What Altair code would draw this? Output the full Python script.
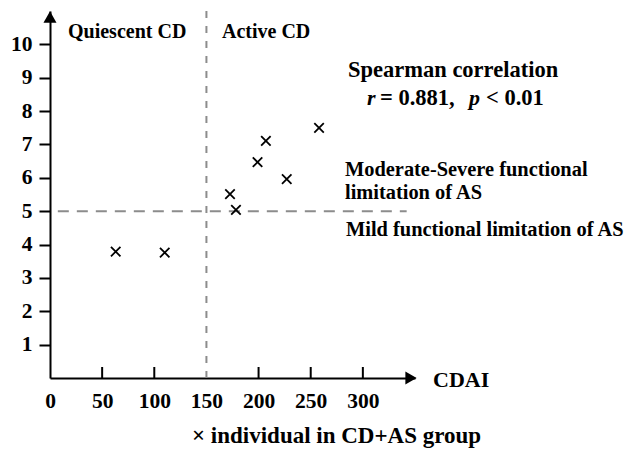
import altair as alt
import pandas as pd

# data
cdai = [63, 110, 172.6, 178.3, 199, 207, 227, 258]
score = [3.79, 3.76, 5.51, 5.04, 6.47, 7.11, 5.96, 7.5]
x_ticks = [0, 50, 100, 150, 200, 250, 300]
y_ticks = [1, 2, 3, 4, 5, 6, 7, 8, 9, 10]
inner_ticks = [50, 100, 200, 250, 300]
cd_cut = 150
as_cut = 5

FONT = "Liberation Serif"
W, H = 365, 367
xs = alt.Scale(domain=[0, 350], nice=False, zero=False)
ys = alt.Scale(domain=[0, 11], nice=False, zero=False)

pts = pd.DataFrame({"x": cdai, "y": score})

points = alt.Chart(pts).mark_point(
    shape="M-1,-1L1,1M1,-1L-1,1", size=90, filled=False,
    stroke="black", strokeWidth=1.8, opacity=1
).encode(
    x=alt.X("x:Q", scale=xs, title=None, axis=alt.Axis(values=x_ticks)),
    y=alt.Y("y:Q", scale=ys, title=None, axis=alt.Axis(values=y_ticks)),
)

vline = alt.Chart(pd.DataFrame({"x": [cd_cut], "y": [0], "y2": [11]})).mark_rule(
    color="#8c8c8c", strokeWidth=2, strokeDash=[7, 8]
).encode(x=alt.X("x:Q", scale=xs, title=None), y=alt.Y("y:Q", scale=ys, title=None), y2="y2:Q")

hline = alt.Chart(pd.DataFrame({"x": [7.5], "x2": [342], "y": [as_cut]})).mark_rule(
    color="#8c8c8c", strokeWidth=2, strokeDash=[11, 8]
).encode(x=alt.X("x:Q", scale=xs, title=None), x2="x2:Q", y=alt.Y("y:Q", scale=ys, title=None))

ticks = alt.Chart(pd.DataFrame({"x": inner_ticks})).mark_rule(
    color="black", strokeWidth=2
).encode(x=alt.X("x:Q", scale=xs, title=None), y=alt.value(H), y2=alt.value(H - 11))

arrow_y = alt.Chart(pd.DataFrame({"a": [0]})).mark_point(
    shape="triangle-up", size=170, filled=True, color="black", opacity=1
).encode(x=alt.value(0), y=alt.value(6))

arrow_x = alt.Chart(pd.DataFrame({"a": [0]})).mark_point(
    shape="triangle-right", size=170, filled=True, color="black", opacity=1
).encode(x=alt.value(W - 4), y=alt.value(H))

labels = pd.DataFrame({
    "text": ["Quiescent CD", "Active CD", "Spearman correlation",
             "Moderate-Severe functional", "limitation of AS",
             "Mild functional limitation of AS", "CDAI", "\u00d7 individual in CD+AS group"],
    "px": [18, 172, 298, 295, 295, 296, 383, 142],
    "py": [21, 21, 59, 159, 182, 219, 369, 425],
    "size": [20, 20, 22.5, 20.4, 20.4, 20.4, 22, 23],
})

def txt(row, italic=False):
    return alt.Chart(pd.DataFrame({"t": [row[0]]})).mark_text(
        font=FONT, fontWeight="bold", fontStyle="italic" if italic else "normal",
        fontSize=row[3], align="left", baseline="middle", color="black"
    ).encode(text="t:N", x=alt.value(row[1]), y=alt.value(row[2]))

text_layers = [txt(r) for r in labels.itertuples(index=False)]
stat_parts = [("r", 317, 87, 22, True), ("= 0.881,", 330, 87, 22.5, False),
              ("p", 419, 87, 22, True), ("< 0.01", 436, 87, 22.5, False)]
stat_layers = [txt(p[:4], p[4]) for p in stat_parts]

chart = alt.layer(
    vline, hline, ticks, points, arrow_y, arrow_x, *text_layers, *stat_layers
).properties(
    width=W, height=H,
    autosize=alt.AutoSizeParams(type="none"),
    padding={"left": 42, "top": 3, "right": 211, "bottom": 70},
).configure_view(
    stroke=None
).configure_axis(
    grid=False, domainColor="black", domainWidth=2,
    labelFont=FONT, labelFontWeight="bold", labelFontSize=21.5, labelColor="black",
    labelOverlap=False, labelFlush=False, tickColor="black", tickWidth=2
).configure_axisX(
    ticks=False, labelPadding=12
).configure_axisY(
    tickSize=11, labelPadding=7
)

chart.save("out.html", embed_options={"renderer": "svg", "actions": False})
